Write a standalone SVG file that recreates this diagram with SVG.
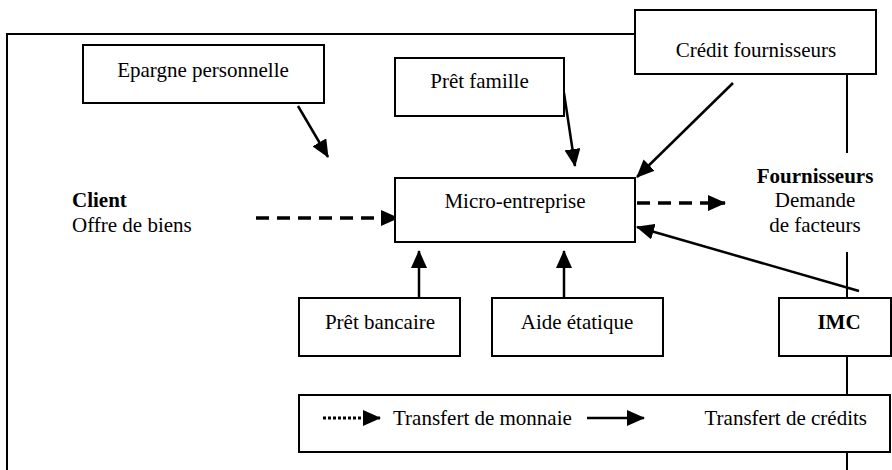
<svg xmlns="http://www.w3.org/2000/svg" width="892" height="470" viewBox="0 0 892 470">
<style>
text{font-family:"Liberation Serif","Times New Roman",serif;font-size:21px;fill:#000}
.b{font-weight:bold}
.box{fill:#fff;stroke:#000;stroke-width:2}
.frame{fill:none;stroke:#000;stroke-width:2}
.arr{fill:none;stroke:#000;stroke-width:2.5}
.dash{fill:none;stroke:#000;stroke-width:3.5;stroke-dasharray:13 8}
.dot{fill:none;stroke:#000;stroke-width:3;stroke-dasharray:3 2}
</style>
<defs>
<marker id="ah" markerUnits="userSpaceOnUse" markerWidth="18" markerHeight="16" viewBox="0 0 18 16" refX="17" refY="8" orient="auto">
<path d="M0,0 L18,8 L0,16 z" fill="#000"/>
</marker>
</defs>
<g id="frame">
<path class="frame" d="M636,34 H7 V470"/>
<path class="frame" d="M847,74 V153 M847,252 V298 M847,356 V395 M847,452 V470"/>
</g>
<g id="connectors">
<line class="arr" x1="298" y1="106" x2="328" y2="157" marker-end="url(#ah)"/>
<line class="arr" x1="564" y1="93" x2="575" y2="166" marker-end="url(#ah)"/>
<line class="arr" x1="733" y1="83" x2="637" y2="177" marker-end="url(#ah)"/>
<line class="dash" x1="256" y1="218" x2="398" y2="218" marker-end="url(#ah)"/>
<line class="dash" x1="637" y1="203" x2="725" y2="203" marker-end="url(#ah)"/>
<line class="arr" x1="859" y1="291" x2="637" y2="227" marker-end="url(#ah)"/>
<line class="arr" x1="419" y1="298" x2="419" y2="251" marker-end="url(#ah)"/>
<line class="arr" x1="564" y1="298" x2="564" y2="251" marker-end="url(#ah)"/>
</g>
<g id="credit-fournisseurs">
<rect class="box" x="635" y="10" width="241" height="64"/>
<text x="756" y="57" text-anchor="middle">Crédit fournisseurs</text>
</g>
<g id="epargne">
<rect class="box" x="83" y="45" width="241" height="58"/>
<text x="203" y="77" text-anchor="middle">Epargne personnelle</text>
</g>
<g id="pret-famille">
<rect class="box" x="395" y="58" width="169" height="58"/>
<text x="479.5" y="88" text-anchor="middle">Prêt famille</text>
</g>
<g id="micro-entreprise">
<rect class="box" x="395" y="178" width="240" height="64"/>
<text x="515" y="208" text-anchor="middle">Micro-entreprise</text>
</g>
<g id="client">
<text x="72" y="207" class="b">Client</text>
<text x="72" y="232">Offre de biens</text>
</g>
<g id="fournisseurs">
<text x="815" y="183" text-anchor="middle" class="b">Fournisseurs</text>
<text x="815" y="207" text-anchor="middle">Demande</text>
<text x="815" y="232" text-anchor="middle">de facteurs</text>
</g>
<g id="pret-bancaire">
<rect class="box" x="299" y="298" width="161" height="58"/>
<text x="380" y="329" text-anchor="middle">Prêt bancaire</text>
</g>
<g id="aide-etatique">
<rect class="box" x="492" y="298" width="171" height="58"/>
<text x="577" y="329" text-anchor="middle">Aide étatique</text>
</g>
<g id="imc">
<rect class="box" x="779" y="298" width="112" height="58"/>
<text x="839" y="329" text-anchor="middle" class="b">IMC</text>
</g>
<g id="legend">
<rect class="box" x="299" y="395" width="591" height="57"/>
<line class="dot" x1="323" y1="418" x2="380" y2="418" marker-end="url(#ah)"/>
<text x="393" y="425">Transfert de monnaie</text>
<line class="arr" x1="587" y1="418" x2="644" y2="418" marker-end="url(#ah)"/>
<text x="867" y="425" text-anchor="end">Transfert de crédits</text>
</g>
</svg>
